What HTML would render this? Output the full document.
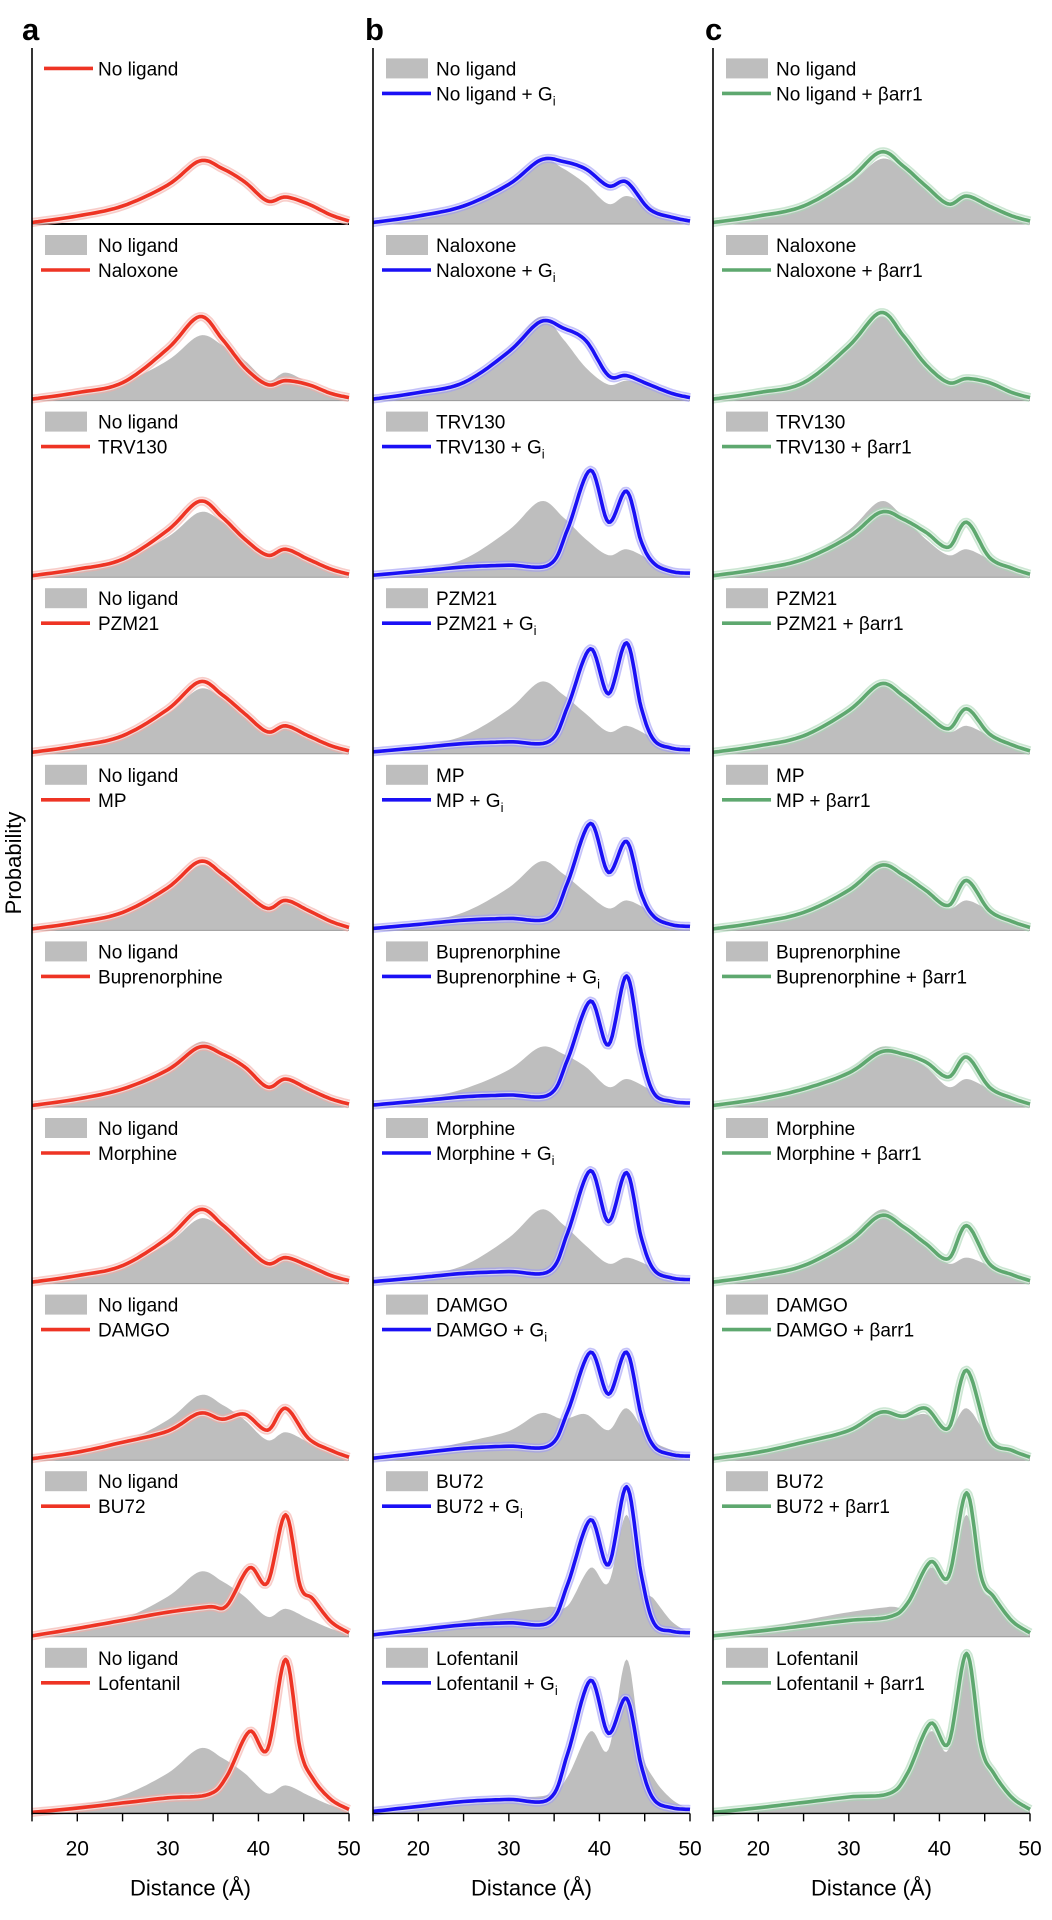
<!DOCTYPE html>
<html><head><meta charset="utf-8">
<style>
html,body{margin:0;padding:0;background:#fff;}
svg{display:block;font-family:"Liberation Sans",sans-serif;}
</style></head>
<body>
<svg id="s" width="1052" height="1920" xmlns="http://www.w3.org/2000/svg"></svg>
<script>
const S=document.getElementById('s');
const NS="http://www.w3.org/2000/svg";
function el(t,a,txt){const e=document.createElementNS(NS,t);for(const k in a)e.setAttribute(k,a[k]);if(txt!==undefined)e.innerHTML=txt;S.appendChild(e);return e;}
const cols=[[32,349],[373,690],[713,1030]];
const TOP=48, H=176.6, BASE0=224;
function single(h33,h38,hd,h43,h46,h36){if(h36===undefined)h36=(h33+h38)/2+3;return [[15,1.5],[20,8],[25,18],[30,h33*0.62],[33.5,h33],[36,h36],[38.5,h38],[41,hd],[43,h43],[45.5,h46],[48,h46*0.45],[50,3]];}
function dbl(r,h39,hd,h43,h46){return [[15,2],[20,r*0.5],[25,r*0.85],[30,r],[34.5,r*1.05],[36.5,h39*0.45],[39,h39],[41,hd],[43,h43],[44.6,h43*0.42],[46,h46],[48,h46*0.4],[50,4]];}
function dblr(r,h39,hd,h43,h46){return [[15,1],[20,r*0.28],[25,r*0.55],[30,r*0.82],[34.5,r],[36.5,h39*0.45],[39,h39],[41,hd],[43,h43],[44.6,h43*0.42],[46,h46],[48,h46*0.4],[50,4]];}
function cr(pts){
 const out=[];
 for(let i=0;i<pts.length-1;i++){
  const p0=pts[Math.max(0,i-1)],p1=pts[i],p2=pts[i+1],p3=pts[Math.min(pts.length-1,i+2)];
  for(let t=0;t<1;t+=0.1){
   const t2=t*t,t3=t2*t;
   const f=(a,b,c,d)=>0.5*((2*b)+(-a+c)*t+(2*a-5*b+4*c-d)*t2+(-a+3*b-3*c+d)*t3);
   out.push([f(p0[0],p1[0],p2[0],p3[0]),Math.max(0,f(p0[1],p1[1],p2[1],p3[1]))]);
  }
 }
 out.push(pts[pts.length-1]);return out;
}
function pathOf(pts,c,base){const[x0,x1]=cols[c];return cr(pts).map((p,i)=>(i?'L':'M')+(x0+(p[0]-15)/35*(x1-x0)).toFixed(1)+','+(base-p[1]).toFixed(1)).join('');}
const APO=single(65,40,20,28,18);
const A=[
 single(63,42,23,27,20),
 single(84,33,16,20,16),
 single(76,38,22,28,18),
 single(72,40,22,28,18),
 single(69,38,22,30,20),
 single(60,40,20,28,18),
 single(74,38,20,26,18),
 single(47,46,30,52,22,41),
 dblr(30,69,54,122,38),
 dblr(19,82,64,154,35)];
const B=[
 single(64,55,38,42,15),
 single(79,60,25,25,16),
 dbl(12,107,55,86,14),
 dbl(12,105,60,111,14),
 dbl(12,107,58,89,14),
 dbl(12,106,62,131,14),
 dbl(12,113,62,111,14),
 dbl(14,108,66,108,14),
 dbl(14,117,72,150,14),
 dbl(14,133,80,115,14)];
const C=[
 single(72,38,20,28,18),
 single(88,36,18,22,18),
 single(65,45,30,55,20),
 single(70,40,25,45,20),
 single(65,40,25,50,20),
 single(55,45,30,50,20),
 single(68,40,25,58,20),
 single(48,52,32,90,22,44),
 dblr(20,75,60,144,40),
 dblr(20,90,70,160,40)];
const names=["No ligand","Naloxone","TRV130","PZM21","MP","Buprenorphine","Morphine","DAMGO","BU72","Lofentanil"];
const colr=["#ee3424","#1a10f5","#5ea86f"];
const band=["#f4aaa4","#9b98f5","#a8d6b4"];
for(let r=0;r<10;r++){
 const base=BASE0+H*r, top=base-H;
 const greys=[r==0?null:APO, r==0?APO:A[r], r==0?APO:A[r]];
 const series=[A[r],B[r],C[r]];
 for(let c=0;c<3;c++){
  const[x0,x1]=cols[c];
  if(greys[c]){el('path',{d:pathOf(greys[c],c,base)+`L${x1},${base}L${x0},${base}Z`,fill:'#bebebe'});}
  el('line',{x1:x0,y1:base,x2:x1,y2:base,stroke:(r==0&&c==0)?'#000':'#999','stroke-width':(r==0&&c==0)?2:1});
  const d=pathOf(series[c],c,base);
  el('path',{d:d,fill:'none',stroke:band[c],'stroke-width':9,'stroke-opacity':0.6,'stroke-linejoin':'round'});
  el('path',{d:d,fill:'none',stroke:'#fff','stroke-width':6,'stroke-linejoin':'round','stroke-opacity':0.5});
  el('path',{d:d,fill:'none',stroke:colr[c],'stroke-width':3.6,'stroke-linejoin':'round'});
  const bx=x0+13, lx=x0+9, tx=x0+(c==0?66:63);
  const y1=top+21, y2=top+46;
  const lbl2=c==0?names[r]:(c==1?names[r]+" + G<tspan font-size='13' dy='5'>i</tspan>":names[r]+" + βarr1");
  if(c==0&&r==0){
   el('line',{x1:lx+3,y1:y1,x2:lx+52,y2:y1,stroke:colr[0],'stroke-width':3.6});
   el('text',{x:tx,y:y1+7,'font-size':19},"No ligand");
  } else {
   el('rect',{x:bx,y:y1-10,width:42,height:20,fill:'#bebebe'});
   el('text',{x:tx,y:y1+7,'font-size':19},c==0?"No ligand":names[r]);
   el('line',{x1:lx,y1:y2,x2:lx+49,y2:y2,stroke:colr[c],'stroke-width':3.6});
   el('text',{x:tx,y:y2+7,'font-size':19},lbl2);
  }
 }
}
const BOT=BASE0+H*9;
for(let c=0;c<3;c++){
 const[x0,x1]=cols[c];
 el('line',{x1:x0,y1:TOP,x2:x0,y2:BOT+1,stroke:'#000','stroke-width':1.6});
 el('line',{x1:x0,y1:BOT,x2:x1,y2:BOT,stroke:'#000','stroke-width':1.4});
 for(let d=15;d<=50;d+=5){const x=x0+(d-15)/35*(x1-x0);el('line',{x1:x,y1:BOT,x2:x,y2:BOT+8,stroke:'#000','stroke-width':1.4});
  if(d%10==0)el('text',{x:x,y:BOT+42,'font-size':21,'text-anchor':'middle'},String(d));}
 el('text',{x:(x0+x1)/2,y:BOT+82,'font-size':22,'text-anchor':'middle'},"Distance (Å)");
}
el('text',{x:22,y:40,'font-size':31,'font-weight':'bold'},"a");
el('text',{x:365,y:40,'font-size':31,'font-weight':'bold'},"b");
el('text',{x:705,y:40,'font-size':31,'font-weight':'bold'},"c");
el('text',{x:0,y:0,'font-size':22,'text-anchor':'middle',transform:'translate(21,863) rotate(-90)'},"Probability");
</script>
</body></html>
